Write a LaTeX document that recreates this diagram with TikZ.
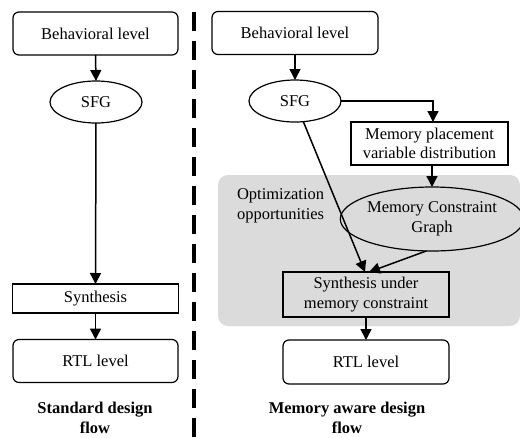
\documentclass[tikz,border=0pt]{standalone}
\usepackage{fontspec}
\setmainfont{Liberation Serif}
\newfontfamily\termsfont{Liberation Serif}
\usetikzlibrary{arrows.meta,shapes.geometric}
\begin{document}
\begin{tikzpicture}[x=1pt,y=-1pt,
  font=\termsfont\fontsize{16.5}{19.5}\selectfont,
  every node/.style={inner sep=0pt,outer sep=0pt},
  rbox/.style={draw,line width=1.2pt,rounded corners=6pt,minimum width=165pt,minimum height=43pt},
  sbox/.style={draw,line width=1.2pt,minimum width=166pt,align=center},
  ell/.style={draw,line width=1.2pt,ellipse,align=center},
  arr/.style={line width=1.5pt,-{Triangle[length=11pt,width=11pt]}},
  lbl/.style={font=\termsfont\fontsize{16.5}{19.5}\selectfont\bfseries,align=center}]
\useasboundingbox (0,0) rectangle (520,437);
% gray region
\fill[gray!28,rounded corners=10pt] (218,175) rectangle (520,326);
% divider
\draw[line width=3.5pt,dash pattern=on 19pt off 10pt] (194,12) -- (194,437);
% left flow
\node[rbox] (lb) at (95.5,33.5) {Behavioral level};
\node[ell,minimum width=92pt,minimum height=42pt] (ls) at (96,102) {SFG};
\node[sbox,minimum height=29pt] (lsyn) at (95.5,298.5) {Synthesis};
\node[rbox] (lr) at (95.5,361) {RTL level};
\node[lbl] (lt) at (95,418) {Standard design\\flow};
\draw[arr] (lb.south) -- (ls.north);
\draw[arr] (ls.south) -- (lsyn.north);
\draw[arr] (lsyn.south) -- (lr.north);
% right flow
\node[rbox,minimum width=166pt] (rb) at (295,33) {Behavioral level};
\node[ell,minimum width=92pt,minimum height=42pt] (rs) at (295,101) {SFG};
\node[sbox,minimum width=157pt,minimum height=43pt] (mp) at (429.5,143.5) {Memory placement\\variable distribution};
\node[ell,minimum width=160pt,minimum height=64pt] (mcg) at (432,219) {Memory Constraint\\Graph};
\node[sbox,minimum height=45pt] (syn) at (366,294.5) {Synthesis under\\memory constraint};
\node[rbox,minimum width=166pt,minimum height=44pt] (rr) at (366,362) {RTL level};
\node[lbl] (rt) at (347,418) {Memory aware design\\flow};
\node[align=left,anchor=west] (opt) at (237,206) {Optimization\\opportunities};
\coordinate (corner) at (433,101);
\draw[arr] (rb.south) -- (rs.north);
\draw[arr] (rs.east) -- (corner) -- (mp.north -| corner);
\draw[arr] (mp.south -| mcg.north) -- (mcg.north);
\draw[arr] (rs.-68) -- ([xshift=-1pt]syn.north);
\draw[arr] (mcg.-100) -- ([xshift=3pt]syn.north);
\draw[arr] (syn.south) -- (rr.north);
\end{tikzpicture}
\end{document}
